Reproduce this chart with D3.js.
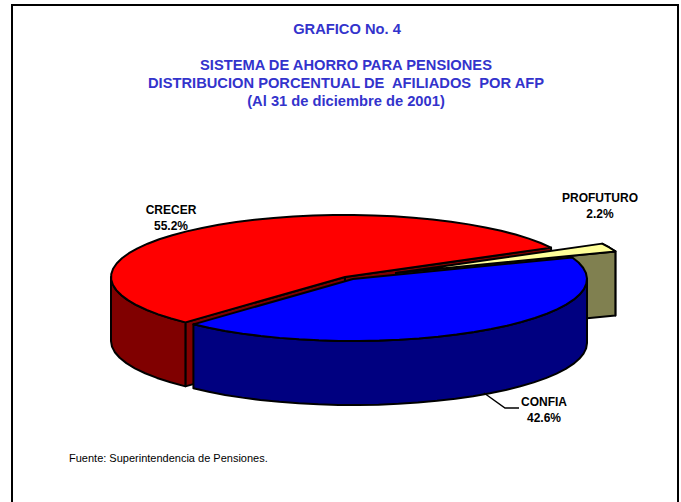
<!DOCTYPE html>
<html>
<head>
<meta charset="utf-8">
<script src="https://cdn.jsdelivr.net/npm/d3@7"></script>
<style>
  html, body { margin: 0; padding: 0; background: #fff; }
  svg { display: block; }
  text { font-family: "Liberation Sans", Arial, sans-serif; }
</style>
</head>
<body>
<svg id="canvas" width="681" height="502"></svg>
<script>
const categories = ['CRECER', 'PROFUTURO', 'CONFIA']
const shares = [55.2, 2.2, 42.6]
const titleLines = ['SISTEMA DE AHORRO PARA PENSIONES', 'DISTRIBUCION PORCENTUAL DE  AFILIADOS  POR AFP', '(Al 31 de diciembre de 2001)']

const topColors = ['#ff0000', '#ffff99', '#0000ff']
const sideColors = ['#800000', '#808050', '#000080']
// how far each slice is pulled out of the pie
const offsets = [[-5, 0], [46, -4], [3, 2]]

const cx = 350, cy = 277, rx = 234, ry = 62, depth = 64

let canvas = d3.select('#canvas')

canvas.append('rect')
      .attr('x', 12).attr('y', 5)
      .attr('width', 666).attr('height', 520)
      .attr('fill', 'none')
      .attr('stroke', '#000')
      .attr('stroke-width', 2)

let pie = d3.pie()
            .sort(null)
            .startAngle(-137 * Math.PI / 180)
            .endAngle(223 * Math.PI / 180)

let slices = pie(shares)

// flat projection of a pie angle onto the tilted ellipse
let project = (slice, angle, drop) => {
    let off = offsets[slice.index]
    return [cx + off[0] + rx * Math.sin(angle), cy + off[1] + drop - ry * Math.cos(angle)]
}

let arcAngles = (a0, a1) => {
    let steps = Math.max(1, Math.round(Math.abs(a1 - a0) / (5 * Math.PI / 180)))
    return d3.range(steps + 1).map((i) => a0 + (a1 - a0) * i / steps)
}

let outline = d3.line()

let drawPoly = (points, fill) => {
    canvas.append('path')
          .attr('d', outline(points) + 'Z')
          .attr('fill', fill)
          .attr('stroke', '#000')
          .attr('stroke-width', 2)
          .attr('stroke-linejoin', 'round')
}

// side wall between two angles along the rim
let drawWall = (slice, a0, a1) => {
    let angles = arcAngles(a0, a1)
    let upper = angles.map((a) => project(slice, a, 0))
    let lower = angles.slice().reverse().map((a) => project(slice, a, depth))
    drawPoly(upper.concat(lower), sideColors[slice.index])
}

// cut face going from the centre out to a rim angle
let drawCut = (slice, angle) => {
    let off = offsets[slice.index]
    let apex = [cx + off[0], cy + off[1]]
    let apexLow = [apex[0], apex[1] + depth]
    drawPoly([apex, project(slice, angle, 0), project(slice, angle, depth), apexLow], sideColors[slice.index])
}

let drawTop = (slice) => {
    let off = offsets[slice.index]
    let rim = arcAngles(slice.startAngle, slice.endAngle).map((a) => project(slice, a, 0))
    drawPoly([[cx + off[0], cy + off[1]]].concat(rim), topColors[slice.index])
}

let [red, yellow, blue] = slices

// back to front
drawCut(red, red.endAngle)
drawCut(red, red.startAngle)
drawWall(red, red.startAngle, -Math.PI / 2)
drawTop(red)

drawWall(yellow, yellow.startAngle, yellow.endAngle)
drawCut(yellow, yellow.endAngle)
drawTop(yellow)

drawWall(blue, Math.PI / 2, blue.endAngle)
drawTop(blue)

// titles
canvas.append('text')
      .attr('x', 347).attr('y', 34)
      .attr('text-anchor', 'middle')
      .attr('font-size', 14.7).attr('font-weight', 'bold')
      .attr('fill', '#3333cc')
      .text('GRAFICO No. 4')

canvas.selectAll('.subtitle')
      .data(titleLines)
      .enter()
      .append('text')
      .attr('class', 'subtitle')
      .attr('x', 346)
      .attr('y', (d, i) => 70 + i * 18)
      .attr('text-anchor', 'middle')
      .attr('font-size', 14.7).attr('font-weight', 'bold')
      .attr('fill', '#3333cc')
      .style('white-space', 'pre')
      .text((d) => d)

// data labels
let labelSpots = [[171, 214], [600, 202], [544, 406]]

canvas.append('clipPath')
      .attr('id', 'labelClip')
      .append('rect')
      .attr('width', 638).attr('height', 502)

let labels = canvas.selectAll('.label')
                   .data(categories)
                   .enter()
                   .append('text')
                   .attr('class', 'label')
                   .attr('clip-path', 'url(#labelClip)')
                   .attr('text-anchor', 'middle')
                   .attr('font-size', 12).attr('font-weight', 'bold')
                   .attr('fill', '#000')

labels.append('tspan')
      .attr('x', (d, i) => labelSpots[i][0])
      .attr('y', (d, i) => labelSpots[i][1])
      .text((d) => d)

labels.append('tspan')
      .attr('x', (d, i) => labelSpots[i][0])
      .attr('y', (d, i) => labelSpots[i][1] + 16)
      .text((d, i) => shares[i].toFixed(1) + '%')

// leader for CONFIA
canvas.append('path')
      .attr('d', outline([[484, 393], [505, 408], [519, 408]]))
      .attr('fill', 'none')
      .attr('stroke', '#000')
      .attr('stroke-width', 1.5)

canvas.append('text')
      .attr('x', 69).attr('y', 462)
      .attr('font-size', 11)
      .attr('fill', '#000')
      .text('Fuente: Superintendencia de Pensiones.')
</script>
</body>
</html>
